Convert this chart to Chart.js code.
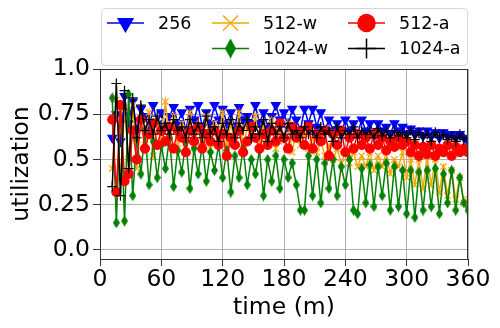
<!DOCTYPE html>
<html>
<head>
<meta charset="utf-8">
<script src="https://cdn.jsdelivr.net/npm/chart.js@4.4.1/dist/chart.umd.min.js"></script>
<style>
  html, body { margin: 0; padding: 0; background: #fff; }
  #chart { display: block; }
</style>
</head>
<body>
<canvas id="chart" width="500" height="328"></canvas>
<script>
// sample times (minutes)
const times = [
  12, 16, 20, 24, 28, 32, 36, 40,
  44, 48, 52, 56, 60, 64, 68, 72,
  76, 80, 84, 88, 92, 96, 100, 104,
  108, 112, 116, 120, 124, 128, 132, 136,
  140, 144, 148, 152, 156, 160, 164, 168,
  172, 176, 180, 184, 188, 192, 196, 200,
  204, 208, 212, 216, 220, 224, 228, 232,
  236, 240, 244, 248, 252, 256, 260, 264,
  268, 272, 276, 280, 284, 288, 292, 296,
  300, 304, 308, 312, 316, 320, 324, 328,
  332, 336, 340, 344, 348, 352, 356, 360
];

const util256 = [
  0.62, 0.75, 0.60, 0.85, 0.70, 0.82, 0.66, 0.78,
  0.74, 0.66, 0.80, 0.70, 0.76, 0.68, 0.74, 0.79,
  0.70, 0.76, 0.66, 0.78, 0.72, 0.80, 0.68, 0.76,
  0.70, 0.80, 0.72, 0.78, 0.70, 0.76, 0.68, 0.79,
  0.72, 0.74, 0.70, 0.80, 0.70, 0.76, 0.68, 0.74,
  0.80, 0.72, 0.76, 0.68, 0.78, 0.72, 0.66, 0.78,
  0.70, 0.78, 0.68, 0.76, 0.66, 0.72, 0.66, 0.70,
  0.64, 0.72, 0.66, 0.70, 0.64, 0.72, 0.66, 0.70,
  0.64, 0.70, 0.66, 0.68, 0.64, 0.70, 0.66, 0.68,
  0.64, 0.67, 0.64, 0.66, 0.63, 0.66, 0.63, 0.65,
  0.62, 0.65, 0.63, 0.64, 0.62, 0.64, 0.62, 0.60
];

const util512w = [
  0.45, 0.83, 0.40, 0.78, 0.50, 0.80, 0.45, 0.72,
  0.58, 0.76, 0.52, 0.70, 0.60, 0.82, 0.60, 0.74,
  0.56, 0.70, 0.62, 0.76, 0.58, 0.68, 0.60, 0.74,
  0.56, 0.70, 0.62, 0.76, 0.58, 0.70, 0.60, 0.76,
  0.56, 0.68, 0.62, 0.74, 0.58, 0.68, 0.60, 0.72,
  0.56, 0.66, 0.60, 0.70, 0.54, 0.66, 0.58, 0.64,
  0.56, 0.62, 0.54, 0.60, 0.52, 0.58, 0.50, 0.56,
  0.48, 0.54, 0.48, 0.54, 0.46, 0.52, 0.46, 0.54,
  0.44, 0.52, 0.46, 0.54, 0.42, 0.50, 0.46, 0.54,
  0.40, 0.50, 0.36, 0.50, 0.34, 0.52, 0.36, 0.50,
  0.32, 0.46, 0.30, 0.44, 0.28, 0.40, 0.26, 0.28
];

const util512a = [
  0.72, 0.32, 0.80, 0.38, 0.42, 0.66, 0.50, 0.72,
  0.56, 0.64, 0.70, 0.58, 0.66, 0.60, 0.68, 0.56,
  0.66, 0.62, 0.54, 0.66, 0.60, 0.68, 0.56, 0.64,
  0.60, 0.66, 0.58, 0.64, 0.52, 0.62, 0.58, 0.66,
  0.54, 0.60, 0.68, 0.62, 0.56, 0.64, 0.58, 0.66,
  0.60, 0.70, 0.62, 0.56, 0.68, 0.62, 0.66, 0.58,
  0.68, 0.56, 0.64, 0.60, 0.66, 0.52, 0.64, 0.58,
  0.66, 0.54, 0.62, 0.56, 0.64, 0.58, 0.62, 0.56,
  0.64, 0.58, 0.62, 0.55, 0.60, 0.57, 0.62, 0.58,
  0.60, 0.54, 0.58, 0.52, 0.57, 0.53, 0.58, 0.52,
  0.56, 0.54, 0.58, 0.52, 0.57, 0.54, 0.56, 0.54
];

const util1024w = [
  0.84, 0.15, 0.80, 0.16, 0.86, 0.30, 0.62, 0.42,
  0.66, 0.36, 0.60, 0.40, 0.58, 0.45, 0.62, 0.35,
  0.55, 0.43, 0.60, 0.34, 0.56, 0.42, 0.58, 0.38,
  0.54, 0.44, 0.58, 0.40, 0.55, 0.32, 0.52, 0.40,
  0.56, 0.36, 0.50, 0.42, 0.55, 0.30, 0.50, 0.38,
  0.52, 0.34, 0.50, 0.40, 0.48, 0.36, 0.22, 0.22,
  0.52, 0.30, 0.50, 0.26, 0.48, 0.34, 0.50, 0.30,
  0.46, 0.36, 0.50, 0.22, 0.20, 0.45, 0.26, 0.47,
  0.24, 0.46, 0.30, 0.48, 0.22, 0.46, 0.24, 0.44,
  0.20, 0.44, 0.18, 0.43, 0.22, 0.44, 0.24, 0.45,
  0.20, 0.42, 0.26, 0.44, 0.22, 0.40, 0.26, 0.22
];

const util1024a = [
  0.35, 0.92, 0.30, 0.88, 0.45, 0.84, 0.62, 0.80,
  0.66, 0.72, 0.64, 0.74, 0.66, 0.70, 0.64, 0.72,
  0.66, 0.68, 0.62, 0.72, 0.64, 0.70, 0.62, 0.74,
  0.64, 0.68, 0.60, 0.70, 0.64, 0.72, 0.62, 0.70,
  0.66, 0.72, 0.62, 0.68, 0.64, 0.72, 0.60, 0.70,
  0.64, 0.68, 0.62, 0.70, 0.64, 0.66, 0.62, 0.68,
  0.64, 0.66, 0.62, 0.68, 0.64, 0.66, 0.60, 0.68,
  0.62, 0.66, 0.64, 0.68, 0.62, 0.66, 0.64, 0.66,
  0.62, 0.67, 0.63, 0.66, 0.62, 0.66, 0.63, 0.65,
  0.62, 0.66, 0.61, 0.65, 0.62, 0.64, 0.60, 0.65,
  0.62, 0.64, 0.61, 0.63, 0.60, 0.64, 0.61, 0.62
];

const yTicks = [0, 0.25, 0.5, 0.75, 1.0];
const yTickLabels = ['0.0', '0.25', '0.5', '0.75', '1.0'];

// thin diamond marker (matplotlib "d")
function thinDiamond(w, h, color) {
  const c = document.createElement('canvas');
  c.width = w; c.height = h;
  const g = c.getContext('2d');
  g.fillStyle = color;
  g.beginPath();
  g.moveTo(w / 2, 0);
  g.lineTo(w, h / 2);
  g.lineTo(w / 2, h);
  g.lineTo(0, h / 2);
  g.closePath();
  g.fill();
  return c;
}
const diamondSmall = thinDiamond(7, 11, '#008000');
const diamondBig = thinDiamond(11, 20, '#008000');

function pts(vals) {
  return vals.map((v, i) => ({ x: times[i], y: v }));
}

const series = [
  { label: '256', data: util256, color: '#0000ff', style: 'triangle', rot: 180, order: 5, r: 5 },
  { label: '512-w', data: util512w, color: '#ffa500', style: 'crossRot', rot: 0, order: 4, r: 4.5 },
  { label: '1024-w', data: util1024w, color: '#008000', style: diamondSmall, rot: 0, order: 3, r: 4 },
  { label: '512-a', data: util512a, color: '#ff0000', style: 'circle', rot: 0, order: 2, r: 4.5 },
  { label: '1024-a', data: util1024a, color: '#000000', style: 'cross', rot: 0, order: 1, r: 5 }
];

// legend slots, matplotlib style 3 columns with an empty slot
const legendItems = [
  { s: 0, x: 107, y: 23, big: 'triangle', rot: 180, br: 8.5 },
  { s: 1, x: 212, y: 23, big: 'crossRot', rot: 0, br: 10.5 },
  { s: 3, x: 348, y: 23, big: 'circle', rot: 0, br: 8.5 },
  { s: 2, x: 212, y: 48.5, big: diamondBig, rot: 0, br: 8 },
  { s: 4, x: 348, y: 48.5, big: 'cross', rot: 0, br: 10 }
];

const frameAndLegend = {
  id: 'frameAndLegend',
  afterDraw(chart) {
    const ctx = chart.ctx;
    const a = chart.chartArea;
    ctx.save();
    ctx.strokeStyle = '#333';
    ctx.lineWidth = 1;
    ctx.strokeRect(a.left + 0.5, a.top + 0.5, a.right - a.left - 1, a.bottom - a.top);
    // legend box
    ctx.beginPath();
    ctx.roundRect(101.5, 8.5, 366, 57, 4);
    ctx.fillStyle = 'rgba(255,255,255,0.85)';
    ctx.fill();
    ctx.strokeStyle = '#d6d6d6';
    ctx.stroke();
    ctx.font = '17.5px "DejaVu Sans"';
    ctx.textBaseline = 'middle';
    legendItems.forEach(it => {
      const s = series[it.s];
      ctx.strokeStyle = s.color;
      ctx.fillStyle = s.color;
      ctx.lineWidth = 1.5;
      ctx.beginPath();
      ctx.moveTo(it.x, it.y);
      ctx.lineTo(it.x + 37, it.y);
      ctx.stroke();
      Chart.helpers.drawPoint(ctx, {
        pointStyle: it.big, radius: it.br, rotation: it.rot, borderWidth: 1.5
      }, it.x + 18.5, it.y);
      ctx.fillStyle = '#000';
      ctx.fillText(s.label, it.x + 51, it.y + 1);
    });
    ctx.restore();
  }
};

Chart.defaults.font.family = '"DejaVu Sans", sans-serif';
Chart.defaults.color = '#000';

new Chart(document.getElementById('chart'), {
  type: 'line',
  data: {
    datasets: series.map(s => ({
      label: s.label,
      data: pts(s.data),
      borderColor: s.color,
      backgroundColor: s.color,
      borderWidth: 1.5,
      pointStyle: s.style,
      pointRotation: s.rot,
      pointRadius: s.r,
      pointBorderWidth: 1.2,
      pointBackgroundColor: s.color,
      pointBorderColor: s.color,
      order: s.order,
      tension: 0
    }))
  },
  options: {
    responsive: false,
    animation: false,
    devicePixelRatio: 1,
    layout: { padding: { left: 0, right: 32, top: 69, bottom: 0 } },
    plugins: { legend: { display: false }, tooltip: { enabled: false } },
    scales: {
      x: {
        type: 'linear',
        min: 0,
        max: 360,
        afterFit(scale) { scale.height = 69; },
        ticks: { stepSize: 60, font: { size: 23.5 }, padding: 0, maxRotation: 0, color: '#000' },
        grid: { color: '#b0b0b0', lineWidth: 1, tickLength: 7, tickColor: '#333', tickWidth: 1 },
        border: { color: '#333', width: 1 },
        title: { display: true, text: 'time (m)', font: { size: 23.5 }, padding: { top: 0, bottom: 6 }, color: '#000' }
      },
      y: {
        type: 'linear',
        min: -0.05,
        max: 1.0,
        afterFit(scale) { scale.width = 100; },
        afterBuildTicks(scale) { scale.ticks = yTicks.map(v => ({ value: v })); },
        ticks: {
          font: { size: 23.5 }, padding: 3, color: '#000',
          callback: (v) => yTickLabels[yTicks.indexOf(v)]
        },
        grid: { color: '#b0b0b0', lineWidth: 1, tickLength: 7, tickColor: '#333', tickWidth: 1 },
        border: { color: '#333', width: 1 },
        title: { display: true, text: 'utilization', font: { size: 23.5 }, padding: { top: 8, bottom: 0 }, color: '#000' }
      }
    }
  },
  plugins: [frameAndLegend]
});
</script>
</body>
</html>
